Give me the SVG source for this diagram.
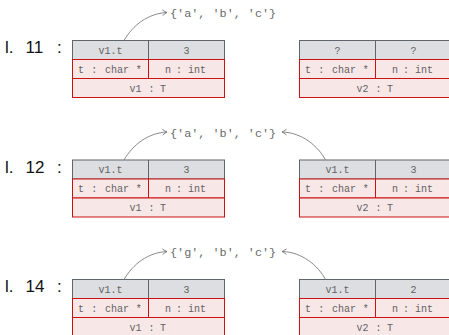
<svg xmlns="http://www.w3.org/2000/svg" width="449" height="335" viewBox="0 0 449 335">
<style>
.hd{fill:#dddee1;stroke:#60646b;stroke-width:1}
.rd{fill:#f8e7e7;stroke:#cc1111;stroke-width:1}
.dv{stroke:#60646b;stroke-width:1}
.tt{font-family:"Liberation Mono",monospace;font-size:10px;fill:#626262;text-anchor:middle}
.br{font-family:"Liberation Mono",monospace;font-size:11.8px;fill:#6a6a6a}
.lb{font-family:"Liberation Sans",Arial,sans-serif;font-size:17px;fill:#111}
.ar{fill:none;stroke:#7a7a7a;stroke-width:0.9;marker-end:url(#ah)}
</style>
<defs>
<marker id="ah" markerUnits="userSpaceOnUse" markerWidth="10" markerHeight="10" viewBox="-6 -5 8 10" refX="0" refY="0" orient="auto">
<path d="M-4.5,-2.8 Q-1.6,-0.6 0,0 Q-1.6,0.6 -4.5,2.8" fill="none" stroke="#7a7a7a" stroke-width="0.9"/>
</marker>
</defs>

<!-- labels -->
<g id="label11"><text class="lb" x="5" y="53.3">l.</text><text class="lb" x="25.5" y="53.3">11</text><text class="lb" x="57" y="53.3">:</text></g>
<g id="label12"><text class="lb" x="5" y="172.8">l.</text><text class="lb" x="25.5" y="172.8">12</text><text class="lb" x="57" y="172.8">:</text></g>
<g id="label14"><text class="lb" x="5" y="292.3">l.</text><text class="lb" x="25.5" y="292.3">14</text><text class="lb" x="57" y="292.3">:</text></g>

<!-- pointed-to arrays -->
<g id="arr11"><text class="br" x="170" y="17">{'a', 'b', 'c'}</text></g>
<g id="arr12"><text class="br" x="170" y="136.5">{'a', 'b', 'c'}</text></g>
<g id="arr14"><text class="br" x="170" y="256">{'g', 'b', 'c'}</text></g>

<!-- line 11 -->
<g id="v1_l11">
<rect class="hd" x="72.5" y="40.5" width="152" height="19"/><line class="dv" x1="148.5" y1="40.5" x2="148.5" y2="59.5"/>
<rect class="rd" x="72.5" y="59.5" width="76" height="19"/><rect class="rd" x="148.5" y="59.5" width="76" height="19"/>
<rect class="rd" x="72.5" y="78.5" width="152" height="19"/>
<text class="tt" x="110.5" y="53.8">v1.t</text><text class="tt" x="186.5" y="53.8">3</text>
<text class="tt" x="81" y="72.8">t</text><text class="tt" x="94.3" y="72.8">:</text><text class="tt" x="117" y="72.8">char</text><text class="tt" x="138.8" y="72.8">*</text>
<text class="tt" x="168" y="72.8">n</text><text class="tt" x="179" y="72.8">:</text><text class="tt" x="197" y="72.8">int</text>
<text class="tt" x="135.5" y="91.8">v1</text><text class="tt" x="151.5" y="91.8">:</text><text class="tt" x="163" y="91.8">T</text>
</g>
<g id="v2_l11">
<rect class="hd" x="299.5" y="40.5" width="152" height="19"/><line class="dv" x1="375.5" y1="40.5" x2="375.5" y2="59.5"/>
<rect class="rd" x="299.5" y="59.5" width="76" height="19"/><rect class="rd" x="375.5" y="59.5" width="76" height="19"/>
<rect class="rd" x="299.5" y="78.5" width="152" height="19"/>
<text class="tt" x="337.5" y="53.8">?</text><text class="tt" x="413.5" y="53.8">?</text>
<text class="tt" x="308" y="72.8">t</text><text class="tt" x="321.3" y="72.8">:</text><text class="tt" x="344" y="72.8">char</text><text class="tt" x="365.8" y="72.8">*</text>
<text class="tt" x="395" y="72.8">n</text><text class="tt" x="406" y="72.8">:</text><text class="tt" x="424" y="72.8">int</text>
<text class="tt" x="362.5" y="91.8">v2</text><text class="tt" x="378.5" y="91.8">:</text><text class="tt" x="390" y="91.8">T</text>
</g>

<!-- line 12 -->
<g id="v1_l12">
<rect class="hd" x="72.5" y="160" width="152" height="19"/><line class="dv" x1="148.5" y1="160" x2="148.5" y2="179"/>
<rect class="rd" x="72.5" y="179" width="76" height="19"/><rect class="rd" x="148.5" y="179" width="76" height="19"/>
<rect class="rd" x="72.5" y="198" width="152" height="19"/>
<text class="tt" x="110.5" y="173.3">v1.t</text><text class="tt" x="186.5" y="173.3">3</text>
<text class="tt" x="81" y="192.3">t</text><text class="tt" x="94.3" y="192.3">:</text><text class="tt" x="117" y="192.3">char</text><text class="tt" x="138.8" y="192.3">*</text>
<text class="tt" x="168" y="192.3">n</text><text class="tt" x="179" y="192.3">:</text><text class="tt" x="197" y="192.3">int</text>
<text class="tt" x="135.5" y="211.3">v1</text><text class="tt" x="151.5" y="211.3">:</text><text class="tt" x="163" y="211.3">T</text>
</g>
<g id="v2_l12">
<rect class="hd" x="299.5" y="160" width="152" height="19"/><line class="dv" x1="375.5" y1="160" x2="375.5" y2="179"/>
<rect class="rd" x="299.5" y="179" width="76" height="19"/><rect class="rd" x="375.5" y="179" width="76" height="19"/>
<rect class="rd" x="299.5" y="198" width="152" height="19"/>
<text class="tt" x="337.5" y="173.3">v1.t</text><text class="tt" x="413.5" y="173.3">3</text>
<text class="tt" x="308" y="192.3">t</text><text class="tt" x="321.3" y="192.3">:</text><text class="tt" x="344" y="192.3">char</text><text class="tt" x="365.8" y="192.3">*</text>
<text class="tt" x="395" y="192.3">n</text><text class="tt" x="406" y="192.3">:</text><text class="tt" x="424" y="192.3">int</text>
<text class="tt" x="362.5" y="211.3">v2</text><text class="tt" x="378.5" y="211.3">:</text><text class="tt" x="390" y="211.3">T</text>
</g>

<!-- line 14 -->
<g id="v1_l14">
<rect class="hd" x="72.5" y="279.5" width="152" height="19"/><line class="dv" x1="148.5" y1="279.5" x2="148.5" y2="298.5"/>
<rect class="rd" x="72.5" y="298.5" width="76" height="19"/><rect class="rd" x="148.5" y="298.5" width="76" height="19"/>
<rect class="rd" x="72.5" y="317.5" width="152" height="19"/>
<text class="tt" x="110.5" y="292.8">v1.t</text><text class="tt" x="186.5" y="292.8">3</text>
<text class="tt" x="81" y="311.8">t</text><text class="tt" x="94.3" y="311.8">:</text><text class="tt" x="117" y="311.8">char</text><text class="tt" x="138.8" y="311.8">*</text>
<text class="tt" x="168" y="311.8">n</text><text class="tt" x="179" y="311.8">:</text><text class="tt" x="197" y="311.8">int</text>
<text class="tt" x="135.5" y="330.8">v1</text><text class="tt" x="151.5" y="330.8">:</text><text class="tt" x="163" y="330.8">T</text>
</g>
<g id="v2_l14">
<rect class="hd" x="299.5" y="279.5" width="152" height="19"/><line class="dv" x1="375.5" y1="279.5" x2="375.5" y2="298.5"/>
<rect class="rd" x="299.5" y="298.5" width="76" height="19"/><rect class="rd" x="375.5" y="298.5" width="76" height="19"/>
<rect class="rd" x="299.5" y="317.5" width="152" height="19"/>
<text class="tt" x="337.5" y="292.8">v1.t</text><text class="tt" x="413.5" y="292.8">2</text>
<text class="tt" x="308" y="311.8">t</text><text class="tt" x="321.3" y="311.8">:</text><text class="tt" x="344" y="311.8">char</text><text class="tt" x="365.8" y="311.8">*</text>
<text class="tt" x="395" y="311.8">n</text><text class="tt" x="406" y="311.8">:</text><text class="tt" x="424" y="311.8">int</text>
<text class="tt" x="362.5" y="330.8">v2</text><text class="tt" x="378.5" y="330.8">:</text><text class="tt" x="390" y="330.8">T</text>
</g>

<!-- connectors -->
<g id="connectors">
<path class="ar" d="M124,40.5 C133,25 148,13.5 167,12.5"/>
<path class="ar" d="M124,160 C133,144.5 148,133 167,132"/>
<path class="ar" d="M325.5,160 C318,146 302,132.5 282,132"/>
<path class="ar" d="M124,279.5 C133,264 148,252.5 167,251.5"/>
<path class="ar" d="M325.5,279.5 C318,265.5 302,252 282,251.5"/>
</g>
</svg>
